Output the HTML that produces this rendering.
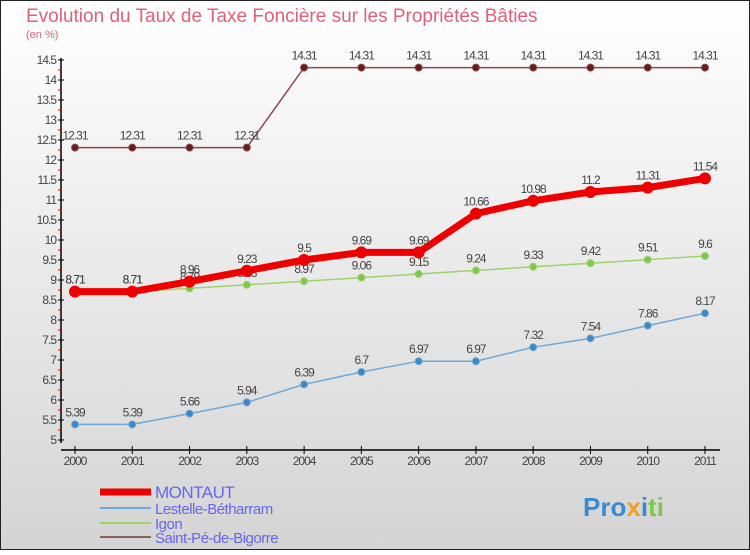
<!DOCTYPE html>
<html><head><meta charset="utf-8"><style>
body{margin:0}
#c{width:750px;height:550px;position:relative;font-family:"Liberation Sans",sans-serif}
svg text{font-family:"Liberation Sans",sans-serif}
</style></head><body>
<div id="c">
<svg id="s" width="750" height="550" xmlns="http://www.w3.org/2000/svg">
<defs><linearGradient id="bg" x1="0" y1="0" x2="0" y2="1"><stop offset="0" stop-color="#ffffff"/><stop offset="1" stop-color="#d4d4d4"/></linearGradient></defs>
<rect x="0.5" y="0.5" width="749" height="549" fill="url(#bg)" stroke="#222"/>
<text x="26" y="22" font-size="19" fill="#e0607a" font-weight="300">Evolution du Taux de Taxe Foncière sur les Propriétés Bâties</text>
<text x="26" y="38" font-size="11" fill="#e0607a">(en %)</text>
<g id="axes"></g><g id="series"></g><g id="legend"></g>
</svg>
</div>
<script>
const years=[2000,2001,2002,2003,2004,2005,2006,2007,2008,2009,2010,2011];
const montaut=[8.71,8.71,8.96,9.23,9.5,9.69,9.69,10.66,10.98,11.2,11.31,11.54];
const lestelle=[5.39,5.39,5.66,5.94,6.39,6.7,6.97,6.97,7.32,7.54,7.86,8.17];
const igon=[8.71,8.71,8.79,8.88,8.97,9.06,9.15,9.24,9.33,9.42,9.51,9.6];
const stpe=[12.31,12.31,12.31,12.31,14.31,14.31,14.31,14.31,14.31,14.31,14.31,14.31];
const yTicks=[5,5.5,6,6.5,7,7.5,8,8.5,9,9.5,10,10.5,11,11.5,12,12.5,13,13.5,14,14.5];
const NS="http://www.w3.org/2000/svg";
const xS=i=>75+i*(630/11);
const yS=v=>440-(v-5)*40;
function mk(t,a,p){const e=document.createElementNS(NS,t);for(const k in a)e.setAttribute(k,a[k]);p.appendChild(e);return e;}
const ax=document.getElementById('axes');
let l=mk('line',{x1:61,y1:58,x2:61,y2:443,stroke:'#000','stroke-width':1.5},ax);


l=mk('line',{x1:61,y1:450,x2:720,y2:450,stroke:'#000','stroke-width':1.5},ax);


yTicks.forEach(v=>{
 const y=yS(v);
 mk('line',{x1:58,y1:y,x2:64,y2:y,stroke:'#000'},ax);
 if(v<14.5)mk('line',{x1:58,y1:y-10,x2:61,y2:y-10,stroke:'#e00'},ax);
 const t=mk('text',{x:56,y:y+4,'text-anchor':'end','font-size':12,fill:'#444','letter-spacing':'-1'},ax);
 t.textContent=String(v);
 
 
});
years.forEach((yr,i)=>{
 const x=xS(i);
 mk('line',{x1:x,y1:446,x2:x,y2:454,stroke:'#000'},ax);
 const t=mk('text',{x:x,y:465,'text-anchor':'middle','font-size':12,fill:'#444','letter-spacing':'-1'},ax);
 t.textContent=yr;
 
 
});
const sg=document.getElementById('series');
function series(vals,color,w,dotFill,dotR,name){
 const g=mk('g',{},sg);
 
 
 mk('polyline',{points:vals.map((v,i)=>xS(i)+','+yS(v)).join(' '),fill:'none',stroke:color,'stroke-width':w},g);
 vals.forEach((v,i)=>{
  const c=mk('circle',{cx:xS(i),cy:yS(v),r:dotR,fill:dotFill,stroke:color,'stroke-width':1},g);
  
  
  const t=mk('text',{x:xS(i),y:yS(v)-8,'text-anchor':'middle','font-size':12,fill:'#444','letter-spacing':'-1'},g);
  t.textContent=String(v);
  
  
 });
}
series(stpe,'#8a4a4a',1.5,'#6b1a1a',3.5,'saint-pe-series');
series(lestelle,'#6fa8d6',1.5,'#3a88c8',3.5,'lestelle-series');
series(igon,'#9ed26a',1.5,'#7cc84a',3.5,'igon-series');
series(montaut,'#ee0000',7,'#ee0000',5.5,'montaut-series');
const lg=document.getElementById('legend');
const items=[['MONTAUT','#ee0000',7,17],['Lestelle-Bétharram','#6fa8d6',2,15],['Igon','#9ed26a',2,15],['Saint-Pé-de-Bigorre','#8a6060',2,15]];
const ly=[492,508,523,537];
items.forEach((it,i)=>{
 const g=mk('g',{},lg);
 
 
 mk('line',{x1:100,y1:ly[i],x2:151,y2:ly[i],stroke:it[1],'stroke-width':it[2]},g);
 const t=mk('text',{x:155,y:ly[i]+6,'font-size':it[3],fill:'#6666ee','letter-spacing':'-0.5'},g);
 t.textContent=it[0];
});
const p=mk('text',{x:583,y:516,'font-size':26,'font-weight':'bold',fill:'#3a8ad0'},lg);


p.innerHTML='Pro<tspan fill="#f0a020">x</tspan><tspan fill="#3a8ad0">i</tspan><tspan fill="#7cc84a">ti</tspan>';
</script>
</body></html>
